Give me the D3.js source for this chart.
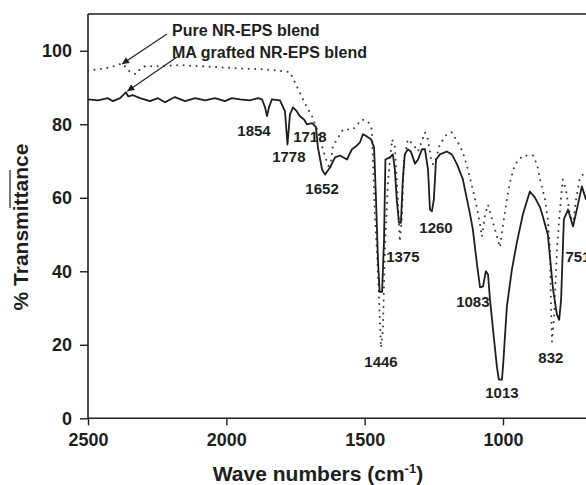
<!DOCTYPE html>
<html>
<head>
<meta charset="utf-8">
<script src="https://cdn.jsdelivr.net/npm/d3@7/dist/d3.min.js"></script>
<style>
  html, body { margin: 0; padding: 0; background: #fff; }
  svg { display: block; font-family: "Liberation Sans", Arial, sans-serif; font-weight: bold; }
</style>
</head>
<body>
<svg id="chart" width="586" height="485"></svg>
<script>
// ---- Data ----
const pureWave = [2500,2457,2420,2395,2377,2363,2348,2327,2312,2294,2240,2168,2095,2023,1951,1878,1824,1770,1745,1723,1705,1690,1672,1651,1636,1625,1615,1596,1578,1542,1510,1488,1474,1463,1456,1448,1441,1434,1427,1416,1401,1391,1380,1373,1366,1358,1344,1326,1307,1282,1271,1260,1253,1242,1228,1203,1185,1163,1145,1130,1112,1098,1083,1076,1065,1054,1044,1029,1011,1000,986,975,957,928,892,877,866,848,838,830,827,823,816,805,794,784,773,758,747,736,722,700];
const pureT    = [94.7,95.0,95.5,96.0,96.6,95.5,94.2,93.6,95.0,95.8,95.8,96.1,95.8,95.5,95.2,95.0,94.7,94.2,90.3,86.8,84.1,82.2,78.6,73.2,69.6,67.7,74.0,76.4,78.6,78.6,81.3,80.8,78.6,54.9,45.9,32.3,19.2,24.1,45.9,64.2,75.9,74.0,59.5,48.1,54.1,70.4,75.9,74.6,72.6,77.8,75.9,70.4,69.1,70.4,74.6,77.3,77.8,75.1,72.4,68.6,63.1,58.7,52.7,49.4,55.4,58.1,55.4,51.4,46.5,52.7,59.5,64.2,69.1,71.5,71.5,69.1,65.0,59.5,54.1,45.9,32.3,20.8,26.8,45.9,56.8,65.0,62.3,55.5,52.7,59.5,65.5,67.1];

const maWave = [2500,2464,2428,2410,2384,2363,2355,2337,2312,2276,2247,2222,2186,2149,2113,2077,2041,2005,1980,1951,1915,1886,1871,1860,1853,1846,1835,1806,1788,1779,1770,1759,1745,1734,1719,1709,1690,1676,1669,1654,1643,1625,1607,1589,1564,1546,1531,1517,1506,1492,1477,1466,1459,1452,1446,1437,1430,1425,1409,1398,1391,1384,1376,1369,1362,1355,1344,1333,1318,1307,1293,1282,1271,1264,1257,1250,1242,1228,1203,1185,1166,1145,1130,1119,1109,1094,1083,1072,1062,1054,1047,1036,1022,1015,1004,1000,986,968,950,928,903,885,866,856,838,819,805,797,790,780,765,747,729,715,700];
const maT    = [86.8,86.5,87.1,86.3,87.1,88.7,87.6,87.9,87.1,86.3,87.1,86.0,87.4,86.3,87.1,86.5,87.1,86.3,87.1,86.8,86.5,87.1,86.8,84.6,82.2,84.6,86.8,86.5,83.5,74.5,82.7,84.6,83.5,82.2,81.3,80.0,80.3,79.2,73.7,67.7,66.3,68.3,71.0,71.5,70.4,73.2,74.0,75.1,77.3,76.7,75.9,73.7,59.5,43.2,34.4,34.4,48.6,70.4,71.0,71.8,67.7,59.5,53.2,53.2,65.0,71.8,73.2,72.6,69.3,70.4,73.2,73.2,67.7,56.8,56.3,59.5,70.4,71.8,72.6,71.8,69.1,65.0,59.5,55.5,51.4,41.9,35.6,35.9,40.0,39.1,32.3,24.1,14.0,10.5,10.5,14.0,30.4,40.4,47.8,55.5,61.7,60.1,57.4,54.9,50.0,35.0,28.2,26.8,32.3,54.1,56.8,52.2,58.2,63.1,59.5];

const xTicks = [2500, 2000, 1500, 1000];
const yTicks = [0, 20, 40, 60, 80, 100];

const peakText = ["1854","1778","1718","1652","1446","1375","1260","1083","1013","832","751"];
const peakWave = [1900,1774,1698,1654,1441,1362,1242,1109,1004,827,729];
const peakT    = [76.7,69.6,75.3,60.9,14.0,42.4,50.5,30.4,5.5,15.1,42.6];

const legendText = ["Pure NR-EPS blend", "MA grafted NR-EPS blend"];
const legendPointWave = [2377, 2358];
const legendPointT = [96.4, 89.0];

// ---- Layout ----
const svg = d3.select("#chart");
const padL = 88, padR = 586, padT = 14, padB = 418.3;

const x = d3.scaleLinear().domain([2500, 700]).range([padL, padR]);
const y = d3.scaleLinear().domain([0, 110]).range([padB, padT]);

const ink = "#1e1e1e";

const defs = svg.append("defs");
defs.append("clipPath").attr("id", "plotclip")
  .append("rect").attr("x", padL).attr("y", padT).attr("width", padR - padL).attr("height", padB - padT);

defs.append("marker")
  .attr("id", "arrow").attr("viewBox", "0 0 10 10").attr("refX", 10).attr("refY", 5)
  .attr("markerWidth", 8).attr("markerHeight", 7).attr("markerUnits", "userSpaceOnUse")
  .attr("orient", "auto")
  .append("path").attr("d", "M0,0 L10,5 L0,10 z").attr("fill", ink);

// top frame line
svg.append("line").attr("x1", padL).attr("x2", padR).attr("y1", padT).attr("y2", padT)
  .attr("stroke", ink).attr("stroke-width", 1.6);

// axes
const xAxis = svg.append("g").attr("transform", `translate(0,${padB})`)
  .call(d3.axisBottom(x).tickValues(xTicks).tickFormat(d3.format("d")).tickSizeInner(7).tickSizeOuter(0).tickPadding(8));
const yAxis = svg.append("g").attr("transform", `translate(${padL},0)`)
  .call(d3.axisLeft(y).tickValues(yTicks).tickFormat(d3.format("d")).tickSizeInner(8).tickSizeOuter(0).tickPadding(8));

[xAxis, yAxis].forEach(g => {
  g.select(".domain").attr("stroke", ink).attr("stroke-width", 1.6);
  g.selectAll(".tick line").attr("stroke", ink).attr("stroke-width", 1.4);
  g.selectAll(".tick text").attr("fill", ink).style("font-size", "18px")
    .style("font-family", "'Liberation Sans', Arial, sans-serif").style("font-weight", "bold");
});
yAxis.select(".domain").attr("d", `M0,${padB}V${padT}`);
xAxis.select(".domain").attr("d", `M${padL},0H${padR}`);

// lines
const line = d3.line().x((d) => x(d[0])).y((d) => y(d[1]));
const plot = svg.append("g").attr("clip-path", "url(#plotclip)");

plot.append("path").datum(d3.zip(pureWave, pureT))
  .attr("d", line).attr("fill", "none").attr("stroke", "#3a3a3a")
  .attr("stroke-width", 2).attr("stroke-linecap", "round").attr("stroke-dasharray", "0.01,6.5");

plot.append("path").datum(d3.zip(maWave, maT))
  .attr("d", line).attr("fill", "none").attr("stroke", ink)
  .attr("stroke-width", 1.8).attr("stroke-linejoin", "round");

// peak labels
svg.append("g").selectAll("text").data(d3.range(peakText.length)).join("text")
  .attr("x", i => x(peakWave[i])).attr("y", i => y(peakT[i]))
  .attr("text-anchor", "middle").attr("fill", ink).style("font-size", "15px")
  .text(i => peakText[i]);

// legend with arrows
const legY = [36, 58];
const legX = 172;
svg.append("g").selectAll("text").data(legendText).join("text")
  .attr("x", legX).attr("y", (d, i) => legY[i]).attr("fill", ink).style("font-size", "16px")
  .text(d => d);
const arrowStart = [[167, 34], [177, 57]];
legendText.forEach((d, i) => {
  svg.append("line")
    .attr("x1", arrowStart[i][0]).attr("y1", arrowStart[i][1])
    .attr("x2", x(legendPointWave[i])).attr("y2", y(legendPointT[i]))
    .attr("stroke", ink).attr("stroke-width", 1.2).attr("marker-end", "url(#arrow)");
});

// axis titles
svg.append("text").attr("x", 318).attr("y", 481).attr("text-anchor", "middle")
  .attr("fill", ink).style("font-size", "21px")
  .html('Wave numbers (cm<tspan dy="-8" style="font-size:13px">-1</tspan><tspan dy="8">)</tspan>');

svg.append("text").attr("transform", "translate(28,227) rotate(-90)")
  .attr("text-anchor", "middle").attr("fill", ink).style("font-size", "21px")
  .text("% Transmittance");
// small overbar artifact seen on the y title in the reference
svg.append("line").attr("x1", 10).attr("x2", 10).attr("y1", 170).attr("y2", 208)
  .attr("stroke", ink).attr("stroke-width", 1.2);
</script>
</body>
</html>
